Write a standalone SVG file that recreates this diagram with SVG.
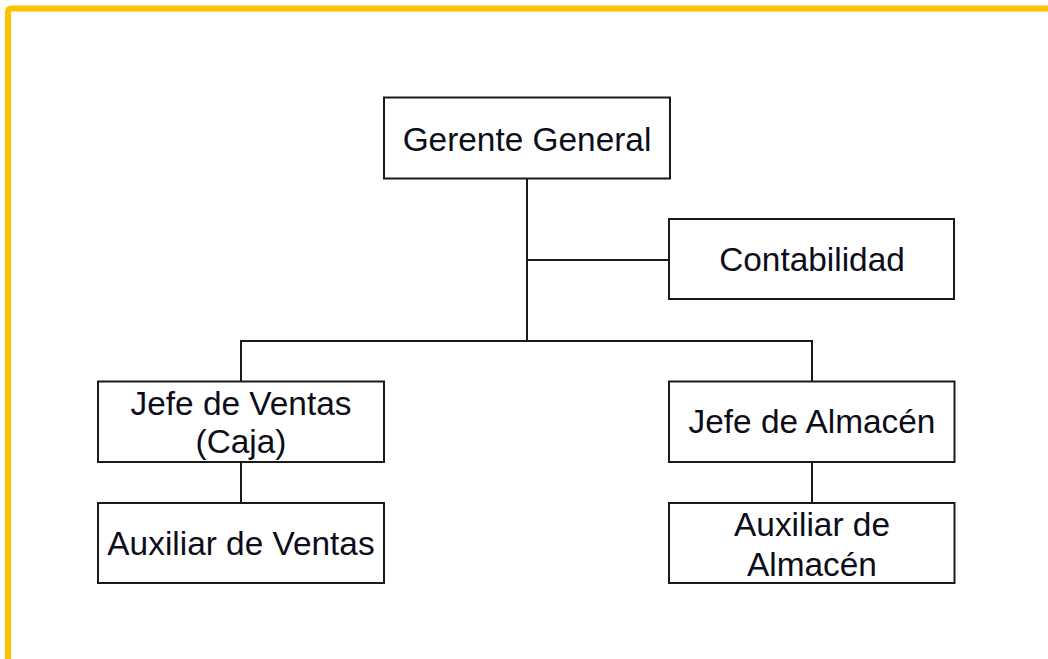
<svg xmlns="http://www.w3.org/2000/svg" width="1048" height="659" viewBox="0 0 1048 659">
<style>
.box{fill:#fff;stroke:#1a1a1a;stroke-width:2}
.lbl{font-family:"Liberation Sans",Arial,sans-serif;font-size:33.4px;fill:#0d0d1a;text-anchor:middle}
.con{fill:none;stroke:#1a1a1a;stroke-width:2}
</style>
<rect width="1048" height="659" fill="#fff"/>
<rect x="8" y="8.5" width="1100" height="700" rx="3" fill="none" stroke="#FFC000" stroke-width="6"/>
<g id="connectors">
<path class="con" d="M527 178 V341 M527 260 H669 M241 381 V341 H812 V381 M241 462 V503 M812 462 V503"/>
</g>
<g id="gerente">
<rect class="box" x="384" y="97.5" width="286" height="81"/>
<text class="lbl" x="527" y="151">Gerente General</text>
</g>
<g id="contabilidad">
<rect class="box" x="669" y="219" width="285" height="80"/>
<text class="lbl" x="812" y="271">Contabilidad</text>
</g>
<g id="jefe-ventas">
<rect class="box" x="98" y="381.5" width="286" height="80.5"/>
<text class="lbl" x="241" y="415">Jefe de Ventas</text>
<text class="lbl" x="241" y="453">(Caja)</text>
</g>
<g id="auxiliar-ventas">
<rect class="box" x="98" y="503" width="286" height="80"/>
<text class="lbl" x="241" y="555">Auxiliar de Ventas</text>
</g>
<g id="jefe-almacen">
<rect class="box" x="669" y="381.5" width="285.5" height="80.5"/>
<text class="lbl" x="812" y="433">Jefe de Almacén</text>
</g>
<g id="auxiliar-almacen">
<rect class="box" x="669" y="503" width="285.5" height="80"/>
<text class="lbl" x="812" y="536">Auxiliar de</text>
<text class="lbl" x="812" y="576">Almacén</text>
</g>
</svg>
